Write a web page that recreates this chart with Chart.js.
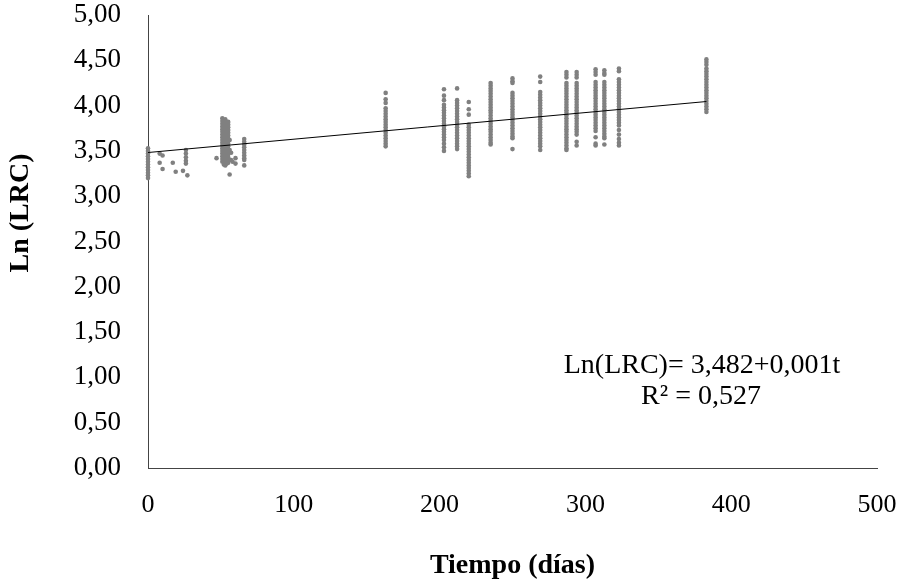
<!DOCTYPE html>
<html>
<head>
<meta charset="utf-8">
<script src="https://cdn.jsdelivr.net/npm/chart.js@4.4.1/dist/chart.umd.min.js"></script>
<style>
  body { margin: 0; background: #fff; }
  #wrap { width: 904px; height: 583px; }
</style>
</head>
<body>
<div id="wrap"><canvas id="grafico"></canvas></div>
<script>
// columnas de puntos (dia, valores de Ln(LRC))
const y000 = [3.20, 3.23, 3.26, 3.29, 3.32, 3.35, 3.38, 3.41, 3.44, 3.47, 3.50, 3.53];
const y051 = [3.86, 3.83, 3.80, 3.77, 3.74, 3.71, 3.68, 3.65, 3.62, 3.59, 3.56, 3.53, 3.50, 3.47, 3.44, 3.41, 3.38];
const y053 = [3.85, 3.82, 3.79, 3.76, 3.73, 3.70, 3.67, 3.64, 3.61, 3.58, 3.55, 3.52, 3.49, 3.46, 3.43, 3.40, 3.37, 3.34];
const y055 = [3.82, 3.79, 3.76, 3.73, 3.70, 3.67, 3.64, 3.61, 3.58, 3.55, 3.52, 3.49, 3.46, 3.43, 3.40, 3.37];
const y066 = [3.63, 3.60, 3.57, 3.54, 3.51, 3.48, 3.45, 3.42, 3.40, 3.34];
const y163 = [4.14, 4.07, 4.03, 3.97, 3.94, 3.91, 3.88, 3.85, 3.82, 3.79, 3.76, 3.73, 3.70, 3.67, 3.64, 3.61, 3.58, 3.55];
const y203 = [4.18, 4.11, 4.06, 4.01, 3.98, 3.95, 3.92, 3.89, 3.86, 3.83, 3.80, 3.77, 3.74, 3.71, 3.68, 3.65, 3.62, 3.58, 3.54, 3.50];
const y212 = [4.19, 4.06, 4.03, 4.00, 3.97, 3.94, 3.91, 3.88, 3.85, 3.82, 3.79, 3.76, 3.73, 3.70, 3.67, 3.64, 3.61, 3.58, 3.55, 3.52];
const y220 = [4.04, 3.96, 3.90, 3.79, 3.76, 3.73, 3.70, 3.67, 3.64, 3.61, 3.58, 3.55, 3.52, 3.49, 3.46, 3.43, 3.40, 3.37, 3.34, 3.31, 3.28, 3.25, 3.22];
const y235 = [4.25, 4.22, 4.19, 4.16, 4.13, 4.10, 4.07, 4.04, 4.01, 3.98, 3.95, 3.92, 3.89, 3.86, 3.83, 3.80, 3.77, 3.74, 3.71, 3.68, 3.65, 3.62, 3.59, 3.57];
const y250 = [4.30, 4.27, 4.25, 4.14, 4.11, 4.08, 4.05, 4.02, 3.99, 3.96, 3.93, 3.90, 3.87, 3.84, 3.81, 3.78, 3.75, 3.72, 3.69, 3.66, 3.64, 3.52];
const y269 = [4.32, 4.26, 4.15, 4.12, 4.09, 4.06, 4.03, 4.00, 3.97, 3.94, 3.91, 3.88, 3.85, 3.82, 3.79, 3.76, 3.73, 3.70, 3.67, 3.64, 3.61, 3.58, 3.55, 3.51];
const y287 = [4.37, 4.34, 4.31, 4.25, 4.22, 4.19, 4.16, 4.13, 4.10, 4.07, 4.04, 4.01, 3.98, 3.95, 3.92, 3.89, 3.86, 3.83, 3.80, 3.77, 3.74, 3.71, 3.68, 3.65, 3.62, 3.59, 3.56, 3.53, 3.51];
const y294 = [4.37, 4.34, 4.31, 4.25, 4.22, 4.19, 4.16, 4.13, 4.10, 4.07, 4.04, 4.01, 3.98, 3.95, 3.92, 3.89, 3.86, 3.83, 3.80, 3.77, 3.74, 3.71, 3.68, 3.60, 3.56];
const y307 = [4.40, 4.37, 4.34, 4.26, 4.23, 4.20, 4.17, 4.14, 4.11, 4.08, 4.05, 4.02, 3.99, 3.96, 3.93, 3.90, 3.87, 3.84, 3.81, 3.78, 3.75, 3.72, 3.65, 3.58, 3.56];
const y313 = [4.39, 4.36, 4.34, 4.26, 4.23, 4.20, 4.17, 4.14, 4.11, 4.08, 4.05, 4.02, 3.99, 3.96, 3.93, 3.90, 3.87, 3.84, 3.81, 3.78, 3.75, 3.72, 3.69, 3.66, 3.64, 3.57];
const y323 = [4.41, 4.38, 4.29, 4.26, 4.23, 4.20, 4.17, 4.14, 4.11, 4.08, 4.05, 4.02, 3.99, 3.96, 3.93, 3.90, 3.87, 3.84, 3.81, 3.78, 3.73, 3.68, 3.63, 3.59, 3.56];
const y383 = [4.51, 4.48, 4.45, 4.41, 4.38, 4.35, 4.32, 4.29, 4.26, 4.23, 4.20, 4.17, 4.14, 4.11, 4.08, 4.05, 4.02, 3.99, 3.96, 3.93];

const columnas = [
    [0, y000], [51, y051], [53, y053], [55, y055], [66, y066],
    [163, y163], [203, y203], [212, y212], [220, y220], [235, y235],
    [250, y250], [269, y269], [287, y287], [294, y294], [307, y307],
    [313, y313], [323, y323], [383, y383]
];

// puntos sueltos
const sueltosX = [8, 10, 8, 10, 17, 19, 24, 26, 26, 26, 26, 26, 27, 47, 56, 56, 57, 57, 54, 58, 60, 60, 56, 52];
const sueltosY = [3.47, 3.45, 3.37, 3.30, 3.37, 3.27, 3.28, 3.51, 3.47, 3.43, 3.39, 3.36, 3.23, 3.42, 3.62, 3.51, 3.48, 3.40, 3.36, 3.38, 3.42, 3.36, 3.24, 3.35];

// linea de tendencia
const tendenciaX = [0, 383];
const tendenciaY = [3.482, 4.045];

const xTicks = [0, 100, 200, 300, 400, 500];

const puntos = [];
columnas.forEach(function(c) {
    c[1].forEach(function(v) { puntos.push({ x: c[0], y: v }); });
});
sueltosX.forEach(function(x, i) { puntos.push({ x: x, y: sueltosY[i] }); });

const tendencia = tendenciaX.map(function(x, i) { return { x: x, y: tendenciaY[i] }; });

const fuente = 'Liberation Serif';

const textos = {
    id: 'textos',
    afterDraw(chart) {
        const ctx = chart.ctx;
        ctx.save();
        ctx.fillStyle = '#000';
        ctx.textAlign = 'center';
        ctx.textBaseline = 'middle';
        ctx.font = '28px "' + fuente + '"';
        ctx.fillText('Ln(LRC)= 3,482+0,001t', 702, 366);
        ctx.fillText('R² = 0,527', 701, 397);
        ctx.translate(21, 213);
        ctx.rotate(-Math.PI / 2);
        ctx.font = 'bold 28px "' + fuente + '"';
        ctx.fillText('Ln (LRC)', 0, 0);
        ctx.restore();
    }
};

new Chart(document.getElementById('grafico'), {
    type: 'scatter',
    data: {
        datasets: [{
            type: 'line',
            data: tendencia,
            borderColor: '#000',
            borderWidth: 1,
            pointRadius: 0,
            fill: false
        }, {
            data: puntos,
            backgroundColor: '#808080',
            borderWidth: 0,
            pointRadius: 2.3,
            clip: false
        }]
    },
    options: {
        responsive: true,
        maintainAspectRatio: false,
        animation: false,
        layout: { padding: { top: 15, right: 27, left: 0, bottom: 0 } },
        plugins: { legend: { display: false }, tooltip: { enabled: false } },
        scales: {
            x: {
                type: 'linear',
                min: 0,
                max: 500,
                afterBuildTicks(scale) { scale.ticks = xTicks.map(function(v) { return { value: v }; }); },
                afterFit(scale) {
                    scale.height = 115;
                    scale.paddingLeft = 0;
                    scale.paddingRight = 0;
                },
                grid: { display: false, drawTicks: false },
                border: { display: true, color: '#444', width: 1 },
                ticks: { color: '#000', padding: 22, font: { family: fuente, size: 26 } },
                title: {
                    display: true,
                    text: 'Tiempo (días)',
                    color: '#000',
                    font: { family: fuente, size: 28, weight: 'bold' },
                    padding: { top: 0, bottom: 0 }
                }
            },
            y: {
                min: 0,
                max: 5,
                afterFit(scale) {
                    scale.width = 148;
                    scale.paddingTop = 0;
                    scale.paddingBottom = 0;
                },
                grid: { display: false, drawTicks: false },
                border: { display: true, color: '#444', width: 1 },
                ticks: {
                    stepSize: 0.5,
                    color: '#000',
                    padding: 27,
                    font: { family: fuente, size: 27 },
                    callback: function(v) { return v.toFixed(2).replace('.', ','); }
                }
            }
        }
    },
    plugins: [textos]
});
</script>
</body>
</html>
